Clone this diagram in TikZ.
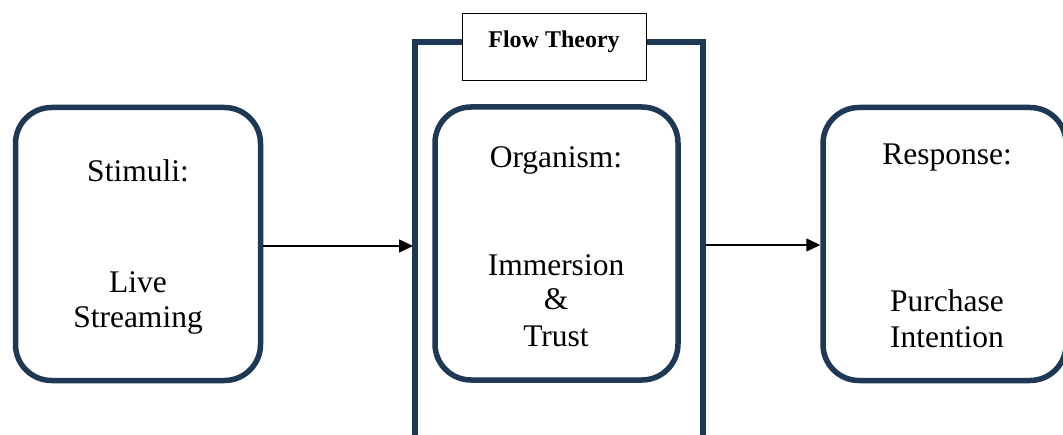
\documentclass[tikz,border=0pt]{standalone}
\usepackage{fontspec}
\setmainfont{Liberation Serif}
\usetikzlibrary{arrows.meta}
\definecolor{navy}{RGB}{31,56,86}
\begin{document}
\begin{tikzpicture}[x=1pt,y=1pt,
  rbox/.style={draw=navy, line width=5.5pt, rounded corners=36pt, minimum height=273pt, inner sep=0pt},
  bracketline/.style={draw=navy, line width=5.5pt},
  lbl/.style={font=\fontsize{31.5}{35}\selectfont, anchor=base, inner sep=0pt},
  flowlbl/.style={font=\fontsize{24}{27}\selectfont\bfseries, anchor=base, inner sep=0pt},
  flowbox/.style={draw=black, line width=1pt, fill=white, minimum width=184pt, minimum height=67pt, inner sep=0pt},
  conn/.style={line width=1.5pt, -{Triangle[length=14pt,width=13pt]}}]
\useasboundingbox (0,0) rectangle (1063,434);
% boxes
\node[rbox, minimum width=245pt] (stim) at (138,190) {};
\node[rbox, minimum width=243pt] (org) at (556.5,190.5) {};
\node[rbox, minimum width=243pt] (resp) at (944.5,190) {};
% bracket
\coordinate (bl) at (415,-5);
\coordinate (tl) at (415,392);
\coordinate (tr) at (703,392);
\coordinate (br) at (703,-5);
\draw[bracketline] (bl) -- (tl) -- (tr) -- (br);
% flow theory box
\node[flowbox] (flow) at (554,386.5) {};
\node[flowlbl] (flowtxt) at (554,386) {Flow Theory};
% texts
\node[lbl] (t1) at (138,252) {Stimuli:};
\node[lbl] (t2) at (138,141) {Live};
\node[lbl] (t3) at (138,106) {Streaming};
\node[lbl] (o1) at (556,266) {Organism:};
\node[lbl] (o2) at (556,158) {Immersion};
\node[lbl] (o3) at (556,124) {\&};
\node[lbl] (o4) at (556,87) {Trust};
\node[lbl] (r1) at (947,269) {Response:};
\node[lbl] (r2) at (947,122) {Purchase};
\node[lbl] (r3) at (947,86) {Intention};
% connectors
\coordinate (a1) at (413,188);
\coordinate (a2s) at (705,189);
\draw[conn] (stim.east |- a1) -- (a1);
\draw[conn] (a2s) -- (resp.west |- a2s);
\end{tikzpicture}
\end{document}
